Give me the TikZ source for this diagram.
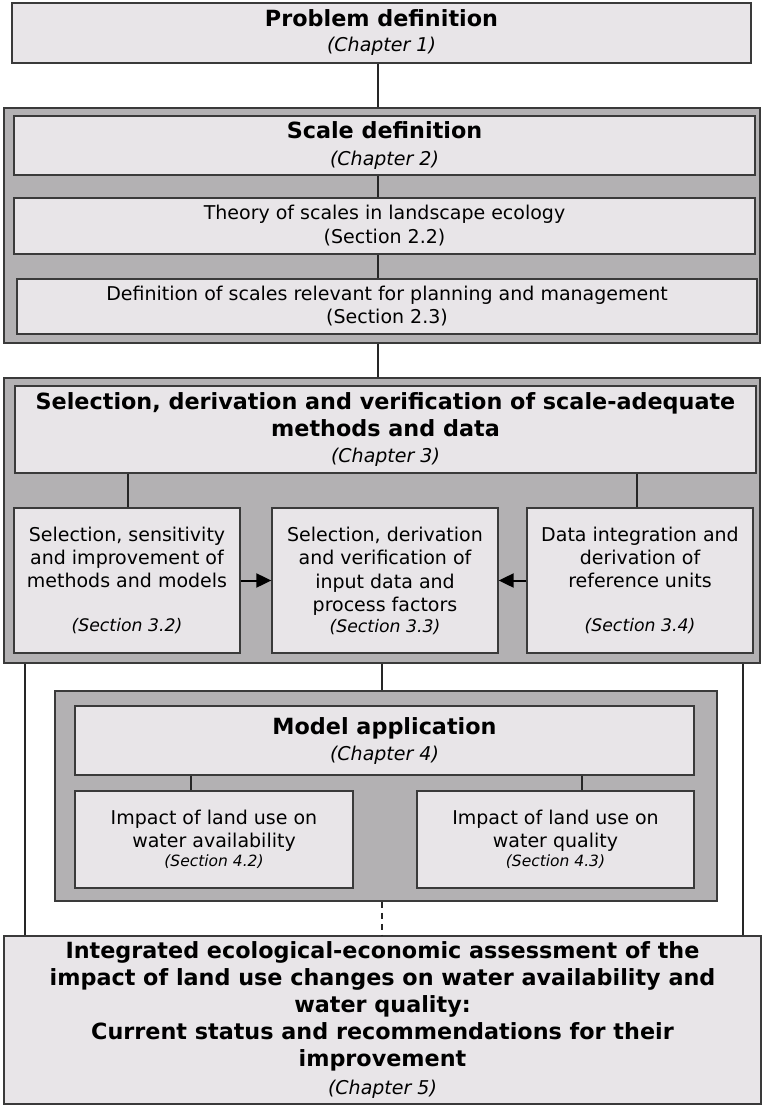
\documentclass[tikz,border=0pt]{standalone}
\usepackage{fontspec}
\setmainfont{DejaVu Sans}
\usetikzlibrary{arrows.meta}
\definecolor{outerfill}{HTML}{B3B1B3}
\definecolor{innerfill}{HTML}{E8E5E8}
\definecolor{edge}{HTML}{3A3A3A}
\newcommand\normfont{\fontsize{19}{24}\selectfont}
\newcommand\ttlfont{\bfseries\fontsize{22.3}{27}\selectfont}
\newcommand\secfont{\itshape\fontsize{17.3}{20}\selectfont}
\newcommand\smallsec{\itshape\fontsize{15.5}{18}\selectfont}
\tikzset{
  outerbox/.style={draw=edge, line width=1.8pt, fill=outerfill, inner sep=0pt},
  innerbox/.style={draw=edge, line width=1.3pt, fill=innerfill, inner sep=0pt, align=center, font=\normfont},
  link/.style={line width=1.5pt, draw=black!85},
  dlink/.style={link, dash pattern=on 6pt off 5pt},
  arr/.style={line width=2pt, draw=black, -{Triangle[length=15pt,width=14pt]}},
}
\begin{document}
\begin{tikzpicture}[x=1pt,y=-1pt]
\useasboundingbox[fill=white] (0,0) rectangle (761,1108);
% helper coordinates
\coordinate (spine) at (378,0);
\coordinate (spineb) at (382,0);
\coordinate (railL) at (25,0);
\coordinate (railR) at (743,0);
\coordinate (c3L) at (128,0);
\coordinate (c3R) at (637,0);
\coordinate (m4L) at (191,0);
\coordinate (m4R) at (582,0);

% Chapter 1
\node[innerbox, minimum width=739pt, minimum height=60pt] (P) at (381.5,33)
  {{\ttlfont Problem definition}\\[1pt]{\itshape (Chapter 1)}};

% Chapter 2
\node[outerbox, minimum width=756pt, minimum height=235pt] (S) at (382,225.5) {};
\node[innerbox, minimum width=741pt, minimum height=59pt] (S1) at (384.5,145.5)
  {{\ttlfont Scale definition}\\[3pt]{\itshape (Chapter 2)}};
\node[innerbox, minimum width=741pt, minimum height=56pt] (S2) at (384.5,226)
  {Theory of scales in landscape ecology\\(Section 2.2)};
\node[innerbox, minimum width=740pt, minimum height=55pt] (S3) at (387,306.5)
  {Definition of scales relevant for planning and management\\[-1pt](Section 2.3)};

% Chapter 3
\node[outerbox, minimum width=756pt, minimum height=285pt] (C) at (382,520.5) {};
\node[innerbox, minimum width=741pt, minimum height=87pt] (C0) at (385.5,429.5)
  {{\ttlfont Selection, derivation and verification of scale-adequate}\\[3pt]
   {\ttlfont methods and data}\\[2pt]{\itshape (Chapter 3)}};
\node[innerbox, minimum width=226pt, minimum height=145pt, font=\fontsize{19}{23}\selectfont] (C1) at (127,580.5)
  {Selection, sensitivity\\and improvement of\\methods and models\\[21pt]{\secfont (Section 3.2)}};
\node[innerbox, minimum width=226pt, minimum height=145pt, font=\fontsize{19}{23.5}\selectfont] (C2) at (385,580.5)
  {Selection, derivation\\and verification of\\input data and\\process factors\\[-3pt]{\secfont (Section 3.3)}};
\node[innerbox, minimum width=226pt, minimum height=145pt, font=\fontsize{19}{23}\selectfont] (C3) at (640,580.5)
  {Data integration and\\derivation of\\reference units\\[21pt]{\secfont (Section 3.4)}};

% Chapter 4
\node[outerbox, minimum width=662pt, minimum height=210pt] (M) at (386,796) {};
\node[innerbox, minimum width=619pt, minimum height=69pt] (M0) at (384.5,740.5)
  {{\ttlfont Model application}\\[2pt]{\itshape (Chapter 4)}};
\node[innerbox, minimum width=278pt, minimum height=97pt, font=\fontsize{19}{23}\selectfont] (M1) at (214,839.5)
  {Impact of land use on\\water availability\\[-4pt]{\smallsec (Section 4.2)}};
\node[innerbox, minimum width=277pt, minimum height=97pt, font=\fontsize{19}{23}\selectfont] (M2) at (555.5,839.5)
  {Impact of land use on\\water quality\\[-4pt]{\smallsec (Section 4.3)}};

% Chapter 5
\node[innerbox, minimum width=757pt, minimum height=168pt] (F) at (382.5,1020)
  {{\ttlfont Integrated ecological-economic assessment of the}\\[3pt]
   {\ttlfont impact of land use changes on water availability and}\\[3pt]
   {\ttlfont water quality:}\\[3pt]
   {\ttlfont Current status and recommendations for their}\\[3pt]
   {\ttlfont improvement}\\[4pt]
   {\itshape (Chapter 5)}};

% connectors
\draw[link] (P.south -| spine) -- (S.north -| spine);
\draw[link] (S1.south -| spine) -- (S2.north -| spine);
\draw[link] (S2.south -| spine) -- (S3.north -| spine);
\draw[link] (S.south -| spine) -- (C.north -| spine);
\draw[link] (C0.south -| c3L) -- (C1.north -| c3L);
\draw[link] (C0.south -| c3R) -- (C3.north -| c3R);
\draw[arr] (C1.east) -- (C2.west);
\draw[arr] (C3.west) -- (C2.east);
\draw[link] (C.south -| spineb) -- (M.north -| spineb);
\draw[link] (C.south -| railL) -- (F.north -| railL);
\draw[link] (C.south -| railR) -- (F.north -| railR);
\draw[link] (M0.south -| m4L) -- (M1.north -| m4L);
\draw[link] (M0.south -| m4R) -- (M2.north -| m4R);
\draw[dlink] (M.south -| spineb) -- (F.north -| spineb);
\end{tikzpicture}
\end{document}
